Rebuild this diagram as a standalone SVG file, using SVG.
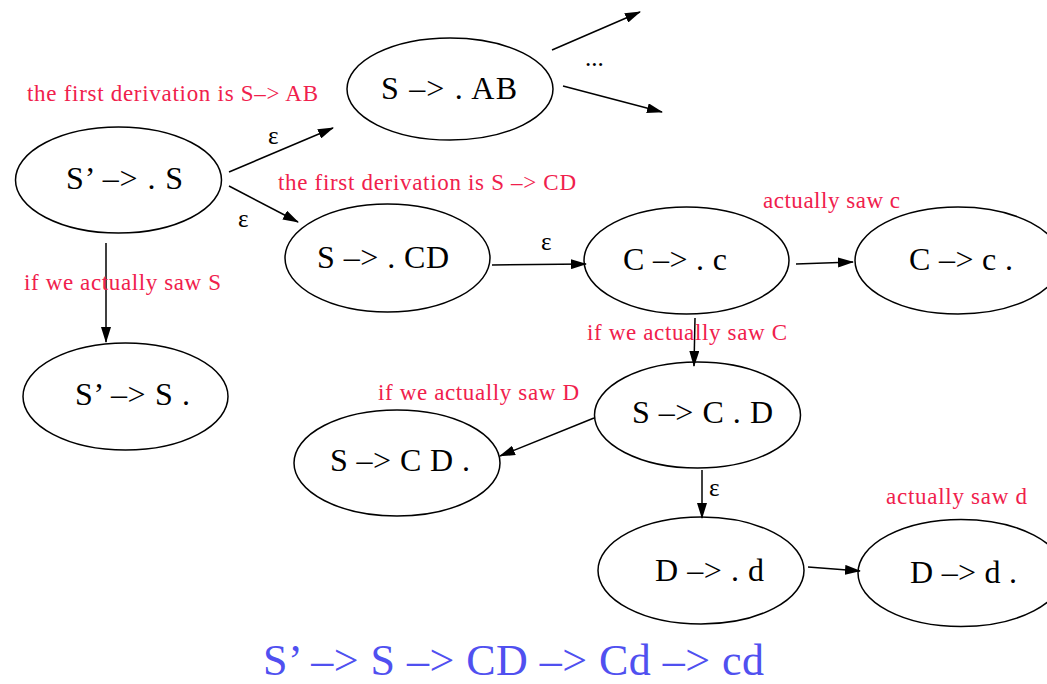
<svg xmlns="http://www.w3.org/2000/svg" width="1047" height="684" viewBox="0 0 1047 684">
<style>
.n{fill:none;stroke:#000;stroke-width:1.5}
.t{font-family:"Liberation Serif","Times New Roman",serif;font-size:32px;fill:#000}
.r{font-family:"Liberation Serif","Times New Roman",serif;font-size:23px;fill:#f0204c}
.e{font-family:"Liberation Serif","Times New Roman",serif;font-size:25px;fill:#000}
.c{stroke:#000;stroke-width:1.5;fill:none;marker-end:url(#ah)}
.b{font-family:"Liberation Serif","Times New Roman",serif;font-size:44px;fill:#5050f0}
</style>
<defs>
<marker id="ah" markerUnits="userSpaceOnUse" markerWidth="16" markerHeight="10" refX="15" refY="5" orient="auto">
<path d="M0,0 L16,5 L0,10 z" fill="#000"/>
</marker>
</defs>
<rect width="1047" height="684" fill="#fff"/>
<g id="n1"><ellipse class="n" cx="118.5" cy="180" rx="103" ry="53"/><text class="t" x="66" y="189" textLength="117">S’ –&gt; . S</text></g>
<g id="n2"><ellipse class="n" cx="450" cy="89" rx="103" ry="51"/><text class="t" x="381" y="99" textLength="136">S  –&gt; . AB</text></g>
<g id="n3"><ellipse class="n" cx="387.5" cy="258" rx="102.5" ry="54"/><text class="t" x="317" y="268" textLength="132">S –&gt; . CD</text></g>
<g id="n4"><ellipse class="n" cx="686.5" cy="260.5" rx="102.5" ry="53.5"/><text class="t" x="623" y="270" textLength="104">C –&gt; . c</text></g>
<g id="n5"><ellipse class="n" cx="958" cy="260.5" rx="103" ry="53.5"/><text class="t" x="909" y="270" textLength="104">C –&gt; c .</text></g>
<g id="n6"><ellipse class="n" cx="125.5" cy="396.5" rx="102.5" ry="53.5"/><text class="t" x="75" y="405" textLength="115">S’ –&gt; S .</text></g>
<g id="n7"><ellipse class="n" cx="697.5" cy="415" rx="103" ry="53"/><text class="t" x="632" y="423" textLength="141">S –&gt; C . D</text></g>
<g id="n8"><ellipse class="n" cx="397" cy="463" rx="103" ry="53"/><text class="t" x="330" y="471" textLength="140">S –&gt; C D .</text></g>
<g id="n9"><ellipse class="n" cx="701" cy="570.5" rx="103" ry="53.5"/><text class="t" x="655" y="581" textLength="109">D –&gt; . d</text></g>
<g id="n10"><ellipse class="n" cx="961" cy="573" rx="103" ry="53.5"/><text class="t" x="910" y="583" textLength="107">D –&gt; d .</text></g>
<g id="connectors">
<line class="c" x1="229" y1="172" x2="333" y2="128"/>
<line class="c" x1="229" y1="186" x2="298" y2="222"/>
<line class="c" x1="552" y1="50" x2="640" y2="12"/>
<line class="c" x1="563" y1="86" x2="662" y2="112"/>
<line class="c" x1="492" y1="265" x2="586" y2="264"/>
<line class="c" x1="796" y1="264" x2="853" y2="262"/>
<line class="c" x1="695" y1="318" x2="694" y2="366"/>
<line class="c" x1="594" y1="418" x2="500" y2="456"/>
<line class="c" x1="702" y1="470" x2="702" y2="518"/>
<line class="c" x1="808" y1="567" x2="860" y2="571"/>
<line class="c" x1="106" y1="243" x2="106" y2="342"/>
<text class="e" x="268" y="144">ε</text>
<text class="e" x="238" y="227">ε</text>
<text class="e" x="541" y="250">ε</text>
<text class="e" x="709" y="496">ε</text>
<text class="e" x="585" y="66">...</text>
</g>
<g id="labels">
<text class="r" x="27" y="101" textLength="291">the first derivation is S–&gt; AB</text>
<text class="r" x="278" y="190" textLength="298">the first derivation is S –&gt; CD</text>
<text class="r" x="763" y="208" textLength="137">actually saw c</text>
<text class="r" x="24" y="290" textLength="197">if we actually saw S</text>
<text class="r" x="587" y="340" textLength="200">if we actually saw C</text>
<text class="r" x="378" y="400" textLength="201">if we actually saw D</text>
<text class="r" x="886" y="504" textLength="141">actually saw d</text>
<text class="b" x="263" y="675" textLength="501">S’ –&gt; S –&gt; CD –&gt; Cd –&gt; cd</text>
</g>
</svg>
